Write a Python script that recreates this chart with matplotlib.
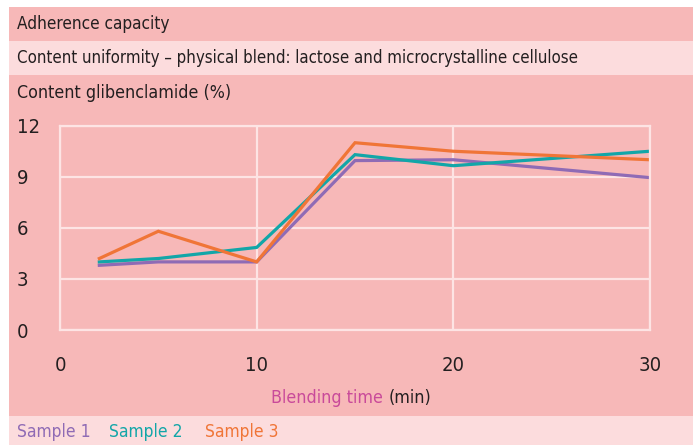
import matplotlib
matplotlib.use('Agg')
import matplotlib.pyplot as plt
from matplotlib import font_manager as fm
from matplotlib.patches import Rectangle

# data
minutes = [2, 5, 10, 15, 20, 30]
sample1 = [3.8, 4.0, 4.0, 9.95, 10.0, 8.95]
sample2 = [4.0, 4.2, 4.85, 10.3, 9.65, 10.5]
sample3 = [4.2, 5.8, 4.0, 11.0, 10.5, 10.0]
series_names = ['Sample 1', 'Sample 2', 'Sample 3']
yticks = [0, 3, 6, 9, 12]
xticks = [0, 10, 20, 30]

dark = '#f7b8b8'
light = '#fcdcdd'
grid_col = '#fde4e4'
colors = ['#8f6bb5', '#12a6a8', '#f07537']
ink = '#231f20'

# look for a narrow font, fall back to DejaVu
narrow = None
for f in fm.fontManager.ttflist:
    nm = f.name + ' ' + f.fname
    if ('Narrow' in nm or 'Condensed' in nm or str(f.stretch) in ('condensed', 'semi-condensed')) \
            and f.style == 'normal' and f.weight in (400, 'normal', 'regular', 'book'):
        narrow = f.fname
        break

def fp(size):
    if narrow:
        return fm.FontProperties(fname=narrow, size=size)
    return fm.FontProperties(family='DejaVu Sans', size=size)

W, H = 696, 445
fig = plt.figure(figsize=(W / 100, H / 100), dpi=100)
fig.patch.set_facecolor('white')

def band(y0, y1, col):
    # y in pixels from top
    fig.patches.append(Rectangle((9 / W, 1 - y1 / H), (693 - 9) / W, (y1 - y0) / H,
                                 transform=fig.transFigure, facecolor=col,
                                 edgecolor='none', zorder=-5))

band(7, 41, dark)
band(41, 75, light)
band(75, 415.5, dark)
band(415.5, 445, light)

fig.text(17 / W, 1 - 24 / H, 'Adherence capacity', fontproperties=fp(12.3), va='center', color=ink)
fig.text(17 / W, 1 - 58 / H, 'Content uniformity – physical blend: lactose and microcrystalline cellulose',
         fontproperties=fp(12.1), va='center', color=ink)
fig.text(17 / W, 1 - 93 / H, 'Content glibenclamide (%)', fontproperties=fp(12.8), va='center', color=ink)

ax = fig.add_axes([60 / W, 1 - 330 / H, (650 - 60) / W, (330 - 125.7) / H], zorder=2)
ax.patch.set_alpha(0)
for vals, c in zip([sample1, sample2, sample3], colors):
    ax.plot(minutes, vals, color=c, lw=2.3, solid_joinstyle='miter')

ax.set_xlim(0, 30)
ax.set_ylim(0, 12)
ax.set_xticks(xticks)
ax.set_yticks(yticks)
ax.grid(True, color=grid_col, lw=1.6)
ax.set_axisbelow(True)
for s in ax.spines.values():
    s.set_color(grid_col)
    s.set_linewidth(1.6)
ax.tick_params(length=0, colors=ink)
ax.tick_params(axis='x', pad=19)
ax.tick_params(axis='y', pad=31)
for lab in ax.get_xticklabels() + ax.get_yticklabels():
    lab.set_fontproperties(fp(14.5))
for lab in ax.get_yticklabels():
    lab.set_horizontalalignment('left')

# x axis title, two colours
t1 = fig.text(0, 1 - 398 / H, 'Blending time ', fontproperties=fp(12.8), va='center', color='#c94a9a')
t2 = fig.text(0, 1 - 398 / H, '(min)', fontproperties=fp(12.8), va='center', color=ink)
fig.canvas.draw()
r = fig.canvas.get_renderer()
w1 = t1.get_window_extent(r).width
w2 = t2.get_window_extent(r).width
x0 = 351 - (w1 + w2) / 2
t1.set_x(x0 / W)
t2.set_x((x0 + w1) / W)

# legend as coloured text
for name, c, xs in zip(series_names, colors, [17, 109, 205]):
    fig.text(xs / W, 1 - 432 / H, name, fontproperties=fp(12.5), va='center', color=c)

fig.savefig('out.png', dpi=100, facecolor='white')
